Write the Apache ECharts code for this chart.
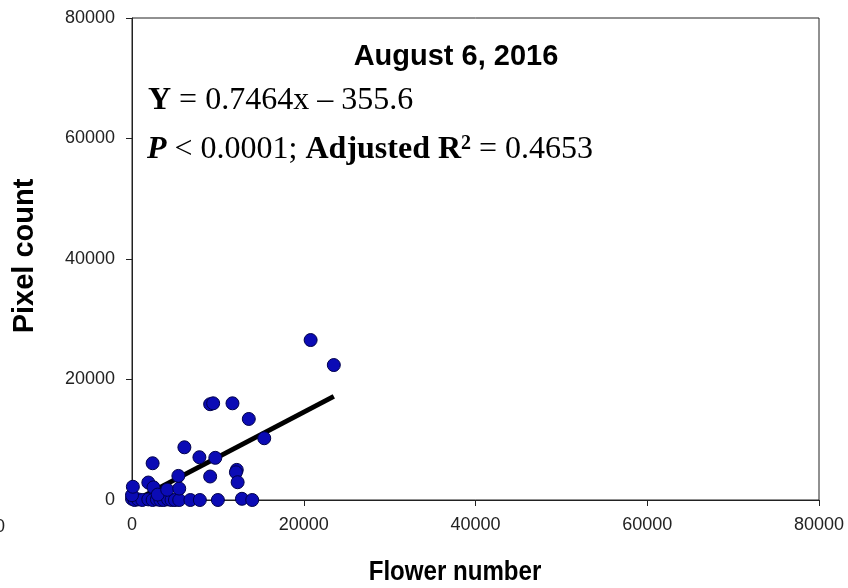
<!DOCTYPE html>
<html>
<head>
<meta charset="utf-8">
<script src="https://cdn.jsdelivr.net/npm/echarts@6/dist/echarts.min.js"></script>
<style>html,body{margin:0;padding:0;background:#fff;}#c{width:848px;height:588px;}</style>
</head>
<body>
<div id="c"></div>
<script>
// Observations: flower number (x) and pixel count (y)
const flowerNumber = [0, 300, 700, 1200, 1900, 2400, 2900, 3300, 3700, 4200, 4600, 5000, 5500, 6800, 7900, 10000, 12800, 14000,
  0, 100, 1900, 2500, 3000, 2400, 4100, 5500, 5400, 6100, 7850, 9100, 9700, 9100, 9450, 11700, 13600, 15400, 12200, 12100, 12300, 20800, 23500];
const pixelCount = [200, 0, 100, 0, 100, 0, 100, 0, 0, 100, 0, 0, 0, 0, 0, 0, 200, 0,
  800, 2200, 2900, 2100, 900, 6100, 1700, 1900, 4000, 8750, 7100, 3900, 7000, 15900, 16050, 16050, 13450, 10250, 5000, 4600, 2950, 26550, 22400];
// Regression line endpoints
const fitX = [1000, 23500];
const fitY = [390, 17200];
const xTicks = [0, 20000, 40000, 60000, 80000];
const yTicks = [0, 20000, 40000, 60000, 80000];

const chart = echarts.init(document.getElementById('c'), null, {renderer: 'canvas'});
const sans = 'Liberation Sans, Arial, sans-serif';
const serif = 'Liberation Serif, Times New Roman, serif';
const axisCommon = {
  type: 'value',
  axisLine: {show: true, lineStyle: {color: '#222', width: 1}},
  axisTick: {show: true, inside: false, length: 6, lineStyle: {color: '#222'}},
  splitLine: {show: false},
  axisLabel: {fontSize: 18, color: '#222', fontFamily: sans, formatter: v => String(v)}
};
chart.setOption({
  animation: false,
  grid: {left: 132, right: 29, top: 18, bottom: 88, show: true, borderColor: '#222', borderWidth: 1, backgroundColor: 'transparent'},
  xAxis: Object.assign({}, axisCommon, {min: xTicks[0], max: xTicks[xTicks.length - 1], interval: xTicks[1] - xTicks[0],
    axisLabel: Object.assign({}, axisCommon.axisLabel, {margin: 16})}),
  yAxis: Object.assign({}, axisCommon, {min: yTicks[0], max: yTicks[yTicks.length - 1], interval: yTicks[1] - yTicks[0],
    axisLabel: Object.assign({}, axisCommon.axisLabel, {margin: 17})}),
  series: [
    {type: 'line', data: fitX.map((x, i) => [x, fitY[i]]), symbol: 'none', z: 1,
     lineStyle: {color: '#000', width: 5}},
    {type: 'scatter', data: flowerNumber.map((x, i) => [x, pixelCount[i]]), symbolSize: 13, z: 2,
     itemStyle: {color: '#0b0bb5', borderColor: '#00004a', borderWidth: 1, opacity: 1}}
  ],
  graphic: [
    {type: 'text', x: 456, y: 57, style: {text: 'August 6, 2016', font: 'bold 29px ' + sans, fill: '#000', textAlign: 'center', textVerticalAlign: 'middle'}},
    {type: 'text', x: 148, y: 101, style: {text: '{b|Y} = 0.7464x \u2013 355.6', fill: '#000', textAlign: 'left', textVerticalAlign: 'middle',
      font: '32px ' + serif, rich: {b: {fontWeight: 'bold', fontSize: 32, fontFamily: serif}}}},
    {type: 'text', x: 147, y: 150, style: {text: '{bi|P} < 0.0001; {b|Adjusted R}{sup|2} = 0.4653', fill: '#000', textAlign: 'left', textVerticalAlign: 'middle',
      font: '32px ' + serif, rich: {
        bi: {fontWeight: 'bold', fontStyle: 'italic', fontSize: 32, fontFamily: serif},
        b: {fontWeight: 'bold', fontSize: 32, fontFamily: serif},
        sup: {fontWeight: 'bold', fontSize: 20, fontFamily: serif, verticalAlign: 'top'}
      }}},
    {type: 'text', x: 25, y: 256, rotation: Math.PI / 2, style: {text: 'Pixel count', font: 'bold 29px ' + sans, fill: '#000', textAlign: 'center', textVerticalAlign: 'middle'}},
    {type: 'text', x: 455, y: 572, scaleX: 0.86, style: {text: 'Flower number', font: 'bold 28px ' + sans, fill: '#000', textAlign: 'center', textVerticalAlign: 'middle'}},
    {type: 'text', x: -5, y: 527, style: {text: '0', font: '18px ' + sans, fill: '#222', textAlign: 'left', textVerticalAlign: 'middle'}}
  ]
});
</script>
</body>
</html>
